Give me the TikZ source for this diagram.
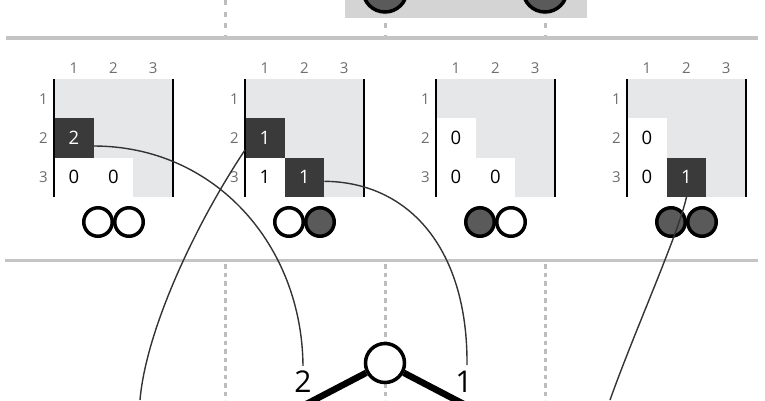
\documentclass[tikz,border=0pt]{standalone}
\usepackage{fontspec}
\setmainfont{Open Sans}
\definecolor{panelgray}{HTML}{E6E7E8}
\definecolor{rulegray}{HTML}{C4C4C4}
\definecolor{dotgray}{HTML}{BDBDBD}
\definecolor{topgray}{HTML}{D4D4D5}
\definecolor{darkcell}{HTML}{3A3A3A}
\definecolor{darkdisc}{HTML}{5A5A5A}
\definecolor{labelgray}{HTML}{6D6E71}
\definecolor{wirecol}{HTML}{333333}
\begin{document}
\begin{tikzpicture}[x=1pt,y=-1pt,
  rule/.style={draw=rulegray, line width=3.5pt},
  dotline/.style={draw=dotgray, line width=3pt, dash pattern=on 4.5pt off 4pt},
  topdot/.style={draw=dotgray, line width=3pt, dash pattern=on 5pt off 6.5pt},
  cellbox/.style={rectangle, minimum width=39.67pt, minimum height=39.33pt, inner sep=0pt, outer sep=0pt, font=\fontsize{18.5}{18.5}\selectfont},
  darkcellbox/.style={cellbox, fill=darkcell, text=white},
  whitecellbox/.style={cellbox, fill=white, text=black},
  edgeline/.style={draw=black, line width=2.2pt},
  idxlabel/.style={text=labelgray, font=\fontsize{15}{15}\selectfont, inner sep=0pt},
  disc/.style={circle, draw=black, line width=3.5pt, minimum size=28.5pt, inner sep=0pt},
  opendisc/.style={disc, fill=white},
  fulldisc/.style={disc, fill=darkdisc},
  bigdisc/.style={circle, draw=black, line width=3.5pt, minimum size=39pt, inner sep=0pt},
  branch/.style={draw=black, line width=6.5pt},
  treelabel/.style={font=\fontsize{30}{30}\selectfont, inner sep=1pt},
  wire/.style={draw=wirecol, line width=1.4pt}
]
\useasboundingbox (0,0) rectangle (765,400);
\clip (0,0) rectangle (765,400);

% top section
\draw[topdot] (225,0) -- (225,36.5);
\draw[topdot] (385,0) -- (385,36.5);
\draw[topdot] (545,0) -- (545,36.5);
\fill[topgray] (345,-5) rectangle (587,17.5);
\node[bigdisc, fill=darkdisc, minimum size=44pt] (topL) at (385,-10) {};
\node[bigdisc, fill=darkdisc, minimum size=44pt] (topR) at (545,-10) {};
\draw[rule] (6,38) -- (758,38);

% panels background
\foreach \i in {0,1,2,3} {
  \pgfmathsetmacro\xo{54+191*\i}
  \fill[panelgray] (\xo,79) rectangle ++(119,118.3);
}

% cells
\node[darkcellbox]  (c1a) at (73.8,138) {2};
\node[whitecellbox] (c1b) at (73.8,177.3) {0};
\node[whitecellbox] (c1c) at (113.5,177.3) {0};

\node[darkcellbox]  (c2a) at (264.8,138) {1};
\node[whitecellbox] (c2b) at (264.8,177.3) {1};
\node[darkcellbox]  (c2c) at (304.5,177.3) {1};

\node[whitecellbox] (c3a) at (455.8,138) {0};
\node[whitecellbox] (c3b) at (455.8,177.3) {0};
\node[whitecellbox] (c3c) at (495.5,177.3) {0};

\node[whitecellbox] (c4a) at (646.8,138) {0};
\node[whitecellbox] (c4b) at (646.8,177.3) {0};
\node[darkcellbox]  (c4c) at (686.5,177.3) {1};

% edges and index labels
\foreach \i in {0,1,2,3} {
  \pgfmathsetmacro\xo{54+191*\i}
  \draw[edgeline] (\xo,79) -- (\xo,197.3);
  \draw[edgeline] (\xo+119,79) -- (\xo+119,197.3);
  \foreach \k in {1,2,3} {
    \node[idxlabel] (col-\i-\k) at (\xo+39.67*\k-19.83, 68) {\k};
    \node[idxlabel] (row-\i-\k) at (\xo-10.5, 79+39.33*\k-19.67) {\k};
  }
}

% state discs
\node[opendisc] (d1a) at (98,222) {};
\node[opendisc] (d1b) at (129,222) {};
\node[opendisc] (d2a) at (289,222) {};
\node[fulldisc] (d2b) at (320,222) {};
\node[fulldisc] (d3a) at (480,222) {};
\node[opendisc] (d3b) at (511,222) {};
\node[fulldisc] (d4a) at (671,222) {};
\node[fulldisc] (d4b) at (702,222) {};

\draw[rule] (5,260.3) -- (758,260.3);

% bottom section
\draw[dotline] (225,264) -- (225,400);
\draw[dotline] (385,264) -- (385,400);
\draw[dotline] (545,264) -- (545,400);

\node[bigdisc, fill=white] (root) at (385,363) {};
\coordinate (bl) at (295,410);
\coordinate (br) at (475,410);
\draw[branch] (root) -- (bl);
\draw[branch] (root) -- (br);

\node[treelabel] (lab2) at (303,382) {2};
\node[treelabel] (lab1) at (464,382) {1};

% connectors
\coordinate (cEnd) at (140,400);
\coordinate (dEnd) at (610,400);
\draw[wire] ([yshift=-8pt]c1a.east) .. controls (215,146) and (302,245) .. ([yshift=4pt]lab2.north);
\draw[wire] ([yshift=-4pt]c2c.east) .. controls (410,182) and (468,250) .. ([xshift=3pt,yshift=5pt]lab1.north);
\draw[wire] ([yshift=-12pt]c2a.west) .. controls (195,225) and (146,330) .. (cEnd);
\draw[wire] (c4c.south) .. controls (678,235) and (635,330) .. (dEnd);
\end{tikzpicture}
\end{document}
